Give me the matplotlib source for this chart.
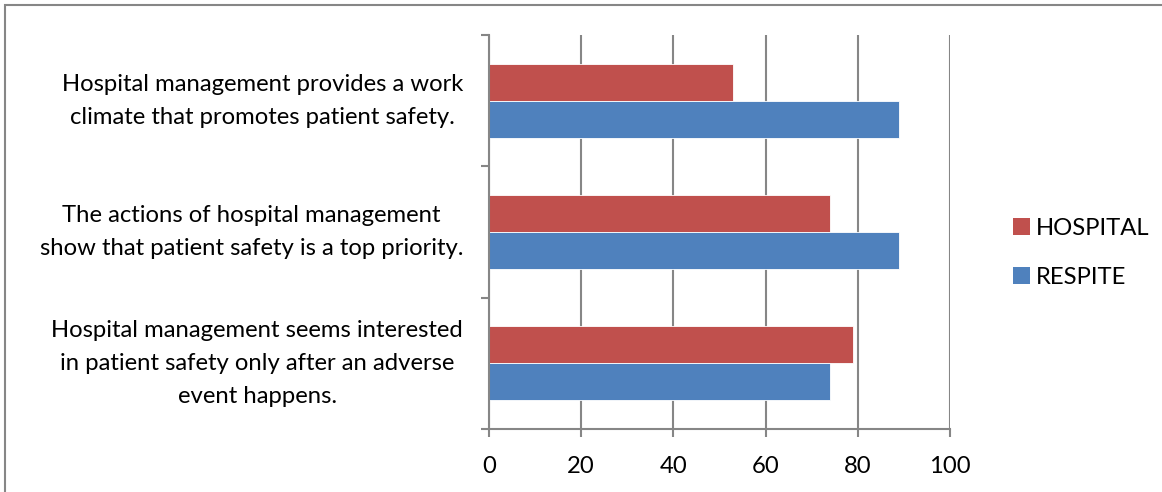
import matplotlib
matplotlib.use("Agg")
import matplotlib.pyplot as plt
from matplotlib.patches import Rectangle, Patch

categories = [
    "Hospital management seems interested\nin patient safety only after an adverse\nevent happens.",
    "The actions of hospital management\nshow that patient safety is a top priority.",
    "Hospital management provides a work\nclimate that promotes patient safety.",
]
hospital = [79, 74, 53]
respite = [74, 89, 89]
series_names = ["HOSPITAL", "RESPITE"]
x_ticks = [0, 20, 40, 60, 80, 100]

plt.rcParams['font.family'] = ['Lato', 'DejaVu Sans']
FS = 17.2
GRAY = '#868686'
RED = '#C0504D'
BLUE = '#4F81BD'

W, H = 1162, 492
fig = plt.figure(figsize=(W/100, H/100), dpi=100)
fig.patch.set_facecolor('white')

# chart area border (top & left visible)
fig.add_artist(Rectangle((5/W, -0.1), 1.2, (H-5)/H + 0.1, transform=fig.transFigure,
                         fill=False, edgecolor=GRAY, linewidth=1.5))

ax = fig.add_axes([489/W, (H-429)/H, (950-489)/W, (429-35)/H])
ypos = list(range(len(categories)))
bh = 0.282
ax.barh([y + bh/2 for y in ypos], hospital, height=bh, color=RED, label=series_names[0],
        edgecolor='white', linewidth=0.6)
ax.barh([y - bh/2 for y in ypos], respite, height=bh, color=BLUE, label=series_names[1],
        edgecolor='white', linewidth=0.6)

ax.set_xlim(0, 100)
ax.set_ylim(-0.5, len(categories) - 0.5)
ax.set_xticks(x_ticks)
ax.set_xticklabels([str(v) for v in x_ticks], fontsize=FS)
ax.xaxis.grid(True, color=GRAY, linewidth=1.5)
ax.set_axisbelow(True)
ax.set_yticks([y - 0.5 for y in range(len(categories) + 1)])
ax.set_yticklabels([])
ax.tick_params(axis='both', direction='out', length=5.5, width=1.5, color=GRAY)
ax.tick_params(axis='x', pad=14)
for s in ['top', 'right']:
    ax.spines[s].set_visible(False)
for s in ['left', 'bottom']:
    ax.spines[s].set_color(GRAY)
    ax.spines[s].set_linewidth(1.5)

for y, lab in zip(ypos, categories):
    ax.annotate(lab, xy=(0, y), xycoords=('axes fraction', 'data'),
                xytext=(-26, 0), textcoords='offset pixels',
                ha='right', va='center', multialignment='center',
                fontsize=FS, linespacing=1.7)

handles = [Patch(facecolor=RED, edgecolor='none'), Patch(facecolor=BLUE, edgecolor='none')]
fig.legend(handles, series_names, loc='center left',
           bbox_to_anchor=(991/W, (H-253)/H), frameon=False, fontsize=FS,
           handlelength=0.72, handleheight=0.72, handletextpad=0.25, labelspacing=1.15)

fig.savefig('out.png', dpi=100)
